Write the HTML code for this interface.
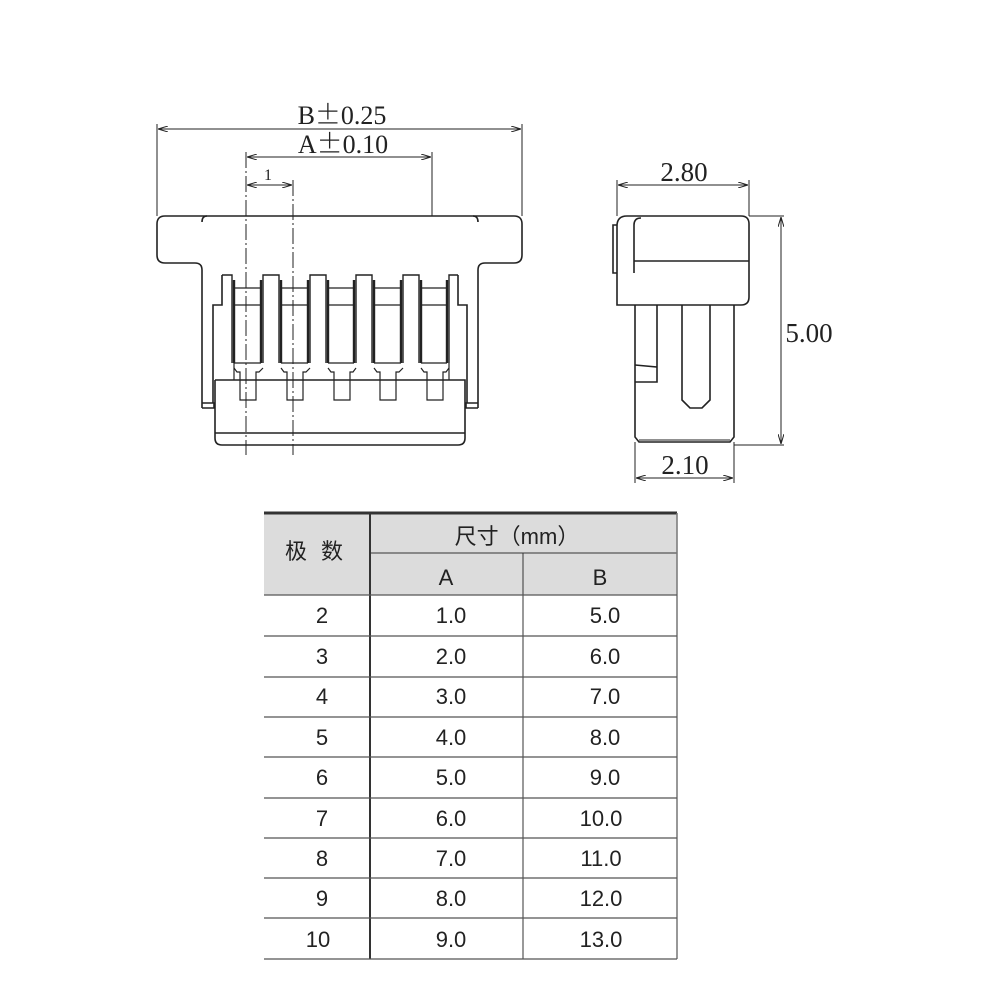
<!DOCTYPE html>
<html><head><meta charset="utf-8"><style>
body{margin:0;background:#fff;}
svg{display:block}
text{font-family:"Liberation Serif",serif;fill:#222}
.t{font-family:"Liberation Sans","Noto Sans CJK SC",sans-serif;font-size:22px;text-anchor:middle;fill:#222}
.pm{font-family:"Noto Sans CJK SC",sans-serif;font-weight:300}
</style></head><body>
<svg width="1000" height="1000" viewBox="0 0 1000 1000" xmlns="http://www.w3.org/2000/svg">
<defs>
<marker id="a" viewBox="0 0 10 6" refX="10" refY="3" markerWidth="10" markerHeight="6" orient="auto-start-reverse"><path d="M0,0 L10,3 L0,6" fill="none" stroke="#222" stroke-width="1"/></marker>
</defs>
<g fill="none" stroke="#222" stroke-width="1.6">
<path d="M165,216 H514 Q522,216 522,224 V255 Q522,263 514,263 H485 Q478,263 478,270 V408"/>
<path d="M165,216 Q157,216 157,224 V255 Q157,263 165,263 H195 Q202,263 202,270 V408"/>
<path d="M207,216 Q202,216 202,222"/>
<path d="M473,216 Q478,216 478,222"/>
<path d="M202,403 H214 V408 H202"/><path d="M478,403 H466 V408 H478"/>
<path d="M222,275 V305 H213 V403"/><path d="M458,275 V305 H467 V403"/>
<path d="M215,380 V438 Q215,445 222,445 H458 Q465,445 465,438 V380 H215"/>
<line x1="215" y1="433" x2="465" y2="433"/>
<g stroke-width="1.4">
<path d="M222,275 H232 V363"/>
<path d="M263,363 V275 H279 V363"/>
<path d="M310,363 V275 H326 V363"/>
<path d="M356,363 V275 H372 V363"/>
<path d="M403,363 V275 H419 V363"/>
<path d="M449,363 V275 H458"/>
</g>
<g stroke-width="2.4">
<line x1="234" y1="280" x2="234" y2="363"/><line x1="261" y1="280" x2="261" y2="363"/>
<line x1="281" y1="280" x2="281" y2="363"/><line x1="308" y1="280" x2="308" y2="363"/>
<line x1="328" y1="280" x2="328" y2="363"/><line x1="354" y1="280" x2="354" y2="363"/>
<line x1="374" y1="280" x2="374" y2="363"/><line x1="401" y1="280" x2="401" y2="363"/>
<line x1="421" y1="280" x2="421" y2="363"/><line x1="447" y1="280" x2="447" y2="363"/>
</g>
<g stroke-width="1.2">
<path d="M234,288 H261 M281,288 H308 M328,288 H354 M374,288 H401 M421,288 H447"/>
<path d="M234,305 H261 M281,305 H308 M328,305 H354 M374,305 H401 M421,305 H447"/>
<path d="M234,363 V380 M449,363 V380"/>
<path d="M234,363 H261 M281,363 H308 M328,363 H354 M374,363 H401 M421,363 H447"/>
<path d="M234,368 L237,372 H240 V400 H256 V372 H259 L263,368"/>
<path d="M281,368 L284,372 H287 V400 H303 V372 H306 L310,368"/>
<path d="M328,368 L331,372 H334 V400 H350 V372 H353 L356,368"/>
<path d="M374,368 L377,372 H380 V400 H396 V372 H399 L403,368"/>
<path d="M421,368 L424,372 H427 V400 H443 V372 H446 L449,368"/>
</g>
</g>
<g stroke="#222" stroke-width="1" fill="none">
<line x1="157" y1="124" x2="157" y2="216"/><line x1="522" y1="124" x2="522" y2="216"/>
<line x1="158" y1="129" x2="521" y2="129" marker-start="url(#a)" marker-end="url(#a)"/>
<line x1="432" y1="152" x2="432" y2="216"/>
<line x1="247" y1="157" x2="431" y2="157" marker-start="url(#a)" marker-end="url(#a)"/>
<line x1="247" y1="185" x2="292" y2="185" marker-start="url(#a)" marker-end="url(#a)"/>
<line x1="246" y1="152" x2="246" y2="455" stroke-dasharray="16,3,2,3"/>
<line x1="293" y1="180" x2="293" y2="455" stroke-dasharray="16,3,2,3"/>
</g>
<text x="342" y="124" font-size="26" text-anchor="middle">B<tspan class="pm">±</tspan>0.25</text>
<text x="343" y="153" font-size="26" text-anchor="middle">A<tspan class="pm">±</tspan>0.10</text>
<text x="268" y="180" font-family="Liberation Sans" font-size="16" text-anchor="middle">1</text>
<g fill="none" stroke="#222" stroke-width="1.6">
<path d="M627,216 H741 Q749,216 749,224 V297 Q749,305 741,305 H617 V226 Q617,216 627,216"/>
<path d="M634,273 V225 Q634,218 641,218"/>
<line x1="634" y1="261" x2="749" y2="261"/>
<path d="M617,225 H613 V273 H617"/>
<path d="M635,305 V437 L639,442 H730 L734,437 V305"/>
<line x1="639" y1="440" x2="730" y2="440" stroke-width="1"/>
<path d="M682,305 V400 L690,408 H702 L710,400 V305"/>
<path d="M657,305 V367 L635,365 M635,382 H657 V367"/>
</g>
<g stroke="#222" stroke-width="1" fill="none">
<line x1="617" y1="180" x2="617" y2="216"/><line x1="749" y1="180" x2="749" y2="216"/>
<line x1="618" y1="185" x2="748" y2="185" marker-start="url(#a)" marker-end="url(#a)"/>
<line x1="749" y1="216" x2="784" y2="216"/><line x1="734" y1="445" x2="784" y2="445"/>
<line x1="781" y1="217" x2="781" y2="444" marker-start="url(#a)" marker-end="url(#a)"/>
<line x1="635" y1="442" x2="635" y2="483"/><line x1="734" y1="442" x2="734" y2="483"/>
<line x1="636" y1="478" x2="733" y2="478" marker-start="url(#a)" marker-end="url(#a)"/>
</g>
<text x="684" y="181" font-size="27" text-anchor="middle">2.80</text>
<text x="809" y="342" font-size="27" text-anchor="middle">5.00</text>
<text x="685" y="474" font-size="27" text-anchor="middle">2.10</text>
<rect x="264" y="513" width="413" height="82" fill="#dcdcdc"/>
<g stroke="#333" fill="none">
<line x1="264" y1="513" x2="677" y2="513" stroke-width="3"/>
<line x1="370" y1="553" x2="677" y2="553" stroke-width="1"/>
<line x1="370" y1="513" x2="370" y2="959" stroke-width="2"/>
<line x1="523" y1="553" x2="523" y2="959" stroke-width="1"/>
<line x1="677" y1="513" x2="677" y2="959" stroke-width="1.5" stroke="#777"/>
<g stroke-width="1.2" stroke="#555">
<line x1="264" y1="595" x2="677" y2="595"/>
<line x1="264" y1="636" x2="677" y2="636"/>
<line x1="264" y1="677" x2="677" y2="677"/>
<line x1="264" y1="717" x2="677" y2="717"/>
<line x1="264" y1="757" x2="677" y2="757"/>
<line x1="264" y1="798" x2="677" y2="798"/>
<line x1="264" y1="838" x2="677" y2="838"/>
<line x1="264" y1="878" x2="677" y2="878"/>
<line x1="264" y1="918" x2="677" y2="918"/>
<line x1="264" y1="959" x2="677" y2="959"/>
</g>
</g>
<text class="t" x="316" y="559" font-size="25" letter-spacing="4">极 数</text>
<text class="t" x="517" y="544" font-size="23">尺寸（mm）</text>
<text class="t" x="446" y="585">A</text>
<text class="t" x="600" y="585">B</text>
<text class="t" x="322" y="623">2</text><text class="t" x="451" y="623">1.0</text><text class="t" x="605" y="623">5.0</text>
<text class="t" x="322" y="664">3</text><text class="t" x="451" y="664">2.0</text><text class="t" x="605" y="664">6.0</text>
<text class="t" x="322" y="704">4</text><text class="t" x="451" y="704">3.0</text><text class="t" x="605" y="704">7.0</text>
<text class="t" x="322" y="745">5</text><text class="t" x="451" y="745">4.0</text><text class="t" x="605" y="745">8.0</text>
<text class="t" x="322" y="785">6</text><text class="t" x="451" y="785">5.0</text><text class="t" x="605" y="785">9.0</text>
<text class="t" x="322" y="826">7</text><text class="t" x="451" y="826">6.0</text><text class="t" x="601" y="826">10.0</text>
<text class="t" x="322" y="866">8</text><text class="t" x="451" y="866">7.0</text><text class="t" x="601" y="866">11.0</text>
<text class="t" x="322" y="906">9</text><text class="t" x="451" y="906">8.0</text><text class="t" x="601" y="906">12.0</text>
<text class="t" x="318" y="947">10</text><text class="t" x="451" y="947">9.0</text><text class="t" x="601" y="947">13.0</text>
</svg>
</body></html>
